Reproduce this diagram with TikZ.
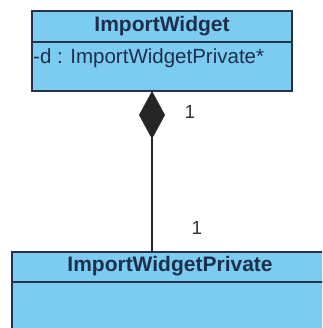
\documentclass[tikz,border=0pt]{standalone}
\usepackage{fontspec}
\setmainfont{Liberation Sans}
\usetikzlibrary{arrows.meta, positioning}
\definecolor{classFill}{HTML}{7CCBF0}
\definecolor{classLine}{HTML}{26324A}
\definecolor{classText}{HTML}{1E2F4C}

\begin{document}
\begin{tikzpicture}[x=1pt, y=-1pt,
    compart/.style={rectangle, draw=classLine, fill=classFill, line width=1.4pt,
      inner sep=0pt, outer sep=0pt},
    cname/.style={font=\fontsize{21}{24}\selectfont\bfseries, text=classText},
    attr/.style={font=\fontsize{20.5}{24}\selectfont, text=classText, inner sep=1pt},
    mult/.style={font=\fontsize{19}{22}\selectfont, text=black!80}
  ]
  \clip (0,0) rectangle (322,328);
  \fill[white] (0,0) rectangle (322,328);
  % ImportWidget class
  \node[compart, minimum width=260pt, minimum height=31pt] (iw) at (162,26.5) {};
  \node[compart, minimum width=260pt, minimum height=49pt, anchor=north] (iwattr) at (iw.south) {};
  \node[cname] (iwname) at (iw.center) {ImportWidget};
  \node[attr, anchor=north west] (iwd) at ([yshift=-5pt]iwattr.north west) {-d : ImportWidgetPrivate*};
  % ImportWidgetPrivate class
  \node[compart, minimum width=330pt, minimum height=30pt] (iwp) at (177,267) {};
  \node[compart, minimum width=330pt, minimum height=70pt, anchor=north] (iwpbody) at (iwp.south) {};
  \node[cname] (iwpname) at (170,266) {ImportWidgetPrivate};
  % composition
  \coordinate (lnk) at (152,0);
  \draw[black!85, line width=1.3pt, -{Diamond[length=48pt, width=26pt]}]
    (iwp.north -| lnk) -- (iwattr.south -| lnk);
  \node[mult] (m1) at (190,112) {1};
  \node[mult] (m2) at (197,228) {1};
\end{tikzpicture}
\end{document}
